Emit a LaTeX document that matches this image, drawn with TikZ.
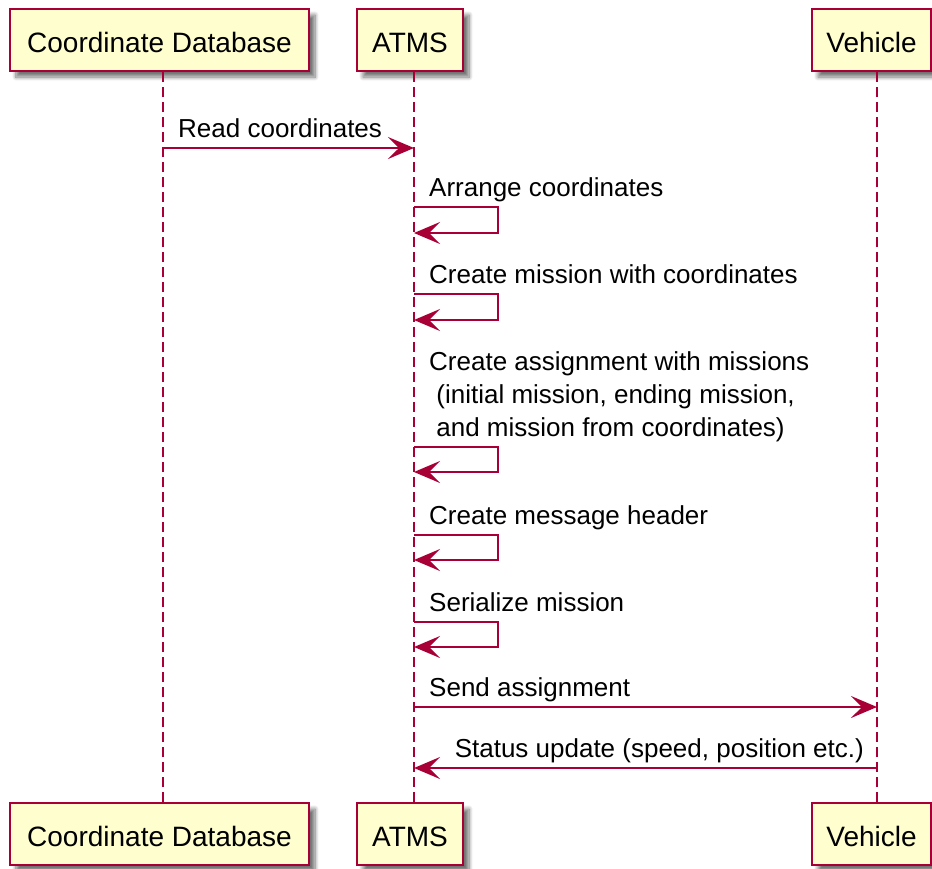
\documentclass[tikz,border=0pt]{standalone}
\usepackage{fontspec}
\setmainfont{Liberation Sans}
\usetikzlibrary{arrows.meta,shadows.blur}
\definecolor{umlred}{HTML}{A80036}
\definecolor{umlfill}{HTML}{FEFECE}

\begin{document}
\begin{tikzpicture}[x=1pt,y=-1pt,
  party/.style={draw=umlred, fill=umlfill, line width=2.5pt, inner sep=0pt,
    minimum height=62pt, text height=26pt, text depth=2pt,
    font=\fontsize{28}{34}\selectfont,
    blur shadow={shadow xshift=6pt, shadow yshift=-6pt, shadow blur steps=8,
      shadow blur radius=4pt, shadow opacity=55}},
  lifeline/.style={umlred, line width=2pt, dash pattern=on 10pt off 5pt},
  msg/.style={umlred, line width=2pt, -{Stealth[length=26pt,width=22pt,inset=11pt]}},
  lbl/.style={font=\fontsize{26}{33}\selectfont, inner sep=0pt, anchor=base west}
]
\useasboundingbox (0,0) rectangle (932,868);

% participants, top and bottom
\node[party, minimum width=299pt] (cdbT) at (159.5,40) {Coordinate Database};
\node[party, minimum width=106pt] (atmsT) at (410,40) {ATMS};
\node[party, minimum width=119pt] (vehT) at (871.5,40) {Vehicle};
\node[party, minimum width=299pt] (cdbB) at (159.5,834) {Coordinate Database};
\node[party, minimum width=106pt] (atmsB) at (410,834) {ATMS};
\node[party, minimum width=119pt] (vehB) at (871.5,834) {Vehicle};

% lifelines
\draw[lifeline] ([xshift=3.5pt]cdbT.south) -- ([xshift=3.5pt]cdbB.north);
\draw[lifeline] ([xshift=4pt]atmsT.south) -- ([xshift=4pt]atmsB.north);
\draw[lifeline] ([xshift=5.5pt]vehT.south) -- ([xshift=5.5pt]vehB.north);

% Read coordinates
\coordinate (r1a) at (163,148);
\coordinate (r1b) at (414,148);
\draw[msg] (r1a) -- (r1b);
\node[lbl] (t1) at (178,137) {Read coordinates};

% self messages on ATMS
\coordinate (s1a) at (414,207); \coordinate (s1b) at (414,233);
\draw[msg] (s1a) -- ++(84,0) |- (s1b);
\node[lbl] (t2) at (429,196) {Arrange coordinates};

\coordinate (s2a) at (414,294); \coordinate (s2b) at (414,320);
\draw[msg] (s2a) -- ++(84,0) |- (s2b);
\node[lbl] (t3) at (429,283) {Create mission with coordinates};

\coordinate (s3a) at (414,447); \coordinate (s3b) at (414,472);
\draw[msg] (s3a) -- ++(84,0) |- (s3b);
\node[lbl] (t4a) at (429,370) {Create assignment with missions};
\node[lbl] (t4b) at (429,403) {\ (initial mission, ending mission,};
\node[lbl] (t4c) at (429,436) {\ and mission from coordinates)};

\coordinate (s4a) at (414,535); \coordinate (s4b) at (414,560);
\draw[msg] (s4a) -- ++(84,0) |- (s4b);
\node[lbl] (t5) at (429,524) {Create message header};

\coordinate (s5a) at (414,622); \coordinate (s5b) at (414,647);
\draw[msg] (s5a) -- ++(84,0) |- (s5b);
\node[lbl] (t6) at (429,611) {Serialize mission};

% ATMS <-> Vehicle
\coordinate (v1a) at (414,707); \coordinate (v1b) at (877,707);
\draw[msg] (v1a) -- (v1b);
\node[lbl] (t7) at (429,696) {Send assignment};

\coordinate (v2a) at (877,768); \coordinate (v2b) at (414,768);
\draw[msg] (v2a) -- (v2b);
\node[lbl, anchor=base east] (t8) at (864,757) {Status update (speed, position etc.)};
\end{tikzpicture}
\end{document}
